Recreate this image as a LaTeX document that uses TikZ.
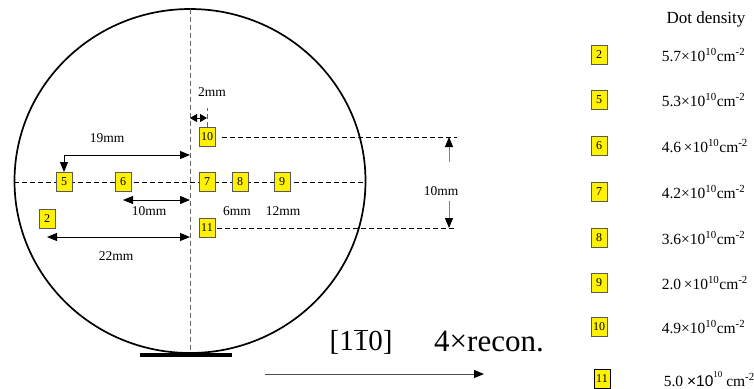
\documentclass[tikz,border=0pt]{standalone}
\usepackage{fontspec}
\setmainfont{Liberation Serif}
\newfontfamily\sansx{Liberation Sans}
\usetikzlibrary{arrows.meta}
\tikzset{
  qdbox/.style={draw=gray!70!black, fill=yellow, minimum width=16pt, minimum height=19pt,
    inner sep=0pt, line width=0.9pt, font=\fontsize{12}{12}\selectfont},
  mmlabel/.style={font=\fontsize{13.5}{13.5}\selectfont},
  dens/.style={anchor=west, font=\fontsize{15.5}{15.5}\selectfont},
  guide/.style={line width=0.9pt, dash pattern=on 5pt off 3pt},
}
\begin{document}
\begin{tikzpicture}[x=1pt, y=-1pt, line width=1pt, >={Triangle[length=10pt, width=8pt, color=black]}]
		\useasboundingbox (0,0) rectangle (754,388);
		% Пластина
		\draw[line width=1.7pt] (190,181) ellipse [x radius=175.5pt, y radius=172pt];
		\fill (140,353) rectangle (232,357);
		\draw[guide, gray!80!black] (190,9) -- (190,352);
		\draw[guide] (14,182) -- (365,182);
		
		% Точки измерения
		\foreach \n/\x/\y in {2/47/219, 5/64/182, 6/123/182, 7/207/182, 8/240/182, 9/282/182, 10/207/137, 11/207/228} {
			\node[qdbox] (b\n) at (\x,\y) {\n};
		}
		
		% Опорные точки на оси
		\coordinate (a2) at (190,118);
		\coordinate (a19) at (190,155);
		\coordinate (a10) at (190,200);
		\coordinate (a22) at (190,237);
		\coordinate (t10) at (457,137);
		\coordinate (t11) at (457,228);
		\coordinate (u10) at (449,137);
		\coordinate (u11) at (449,228);
		
		\draw[guide, shorten <=7pt] (b10.east) -- (t10);
		\draw[guide, shorten <=2pt] (b11.east) -- (t11);
		\draw[guide, gray!80!black] (b10.north) -- ++(0,-19);
		\draw[{Triangle[length=7pt, width=8pt]}-{Triangle[length=7pt, width=8pt]}] (a2) -- (b10.north |- a2);
		\draw[<->] (b5.north) |- (a19);
		\draw[<->] (b6 |- a10) -- (a10);
		\draw[<->] (b2 |- a22) -- (a22);
		
		\node[mmlabel] (l2) at (212,92) {2mm};
		\node[mmlabel] (l19) at (107,138) {19mm};
		\node[mmlabel] (l10) at (149,211) {10mm};
		\node[mmlabel] (l22) at (116,256) {22mm};
		\node[mmlabel] (l6) at (237,211) {6mm};
		\node[mmlabel] (l12) at (283,211) {12mm};
		\node[mmlabel] (d10) at (441,191) {10mm};
		\draw[->, gray, shorten <=21pt] (d10.north -| u10) -- (u10);
		\draw[->, gray, shorten <=2pt] (d10.south -| u11) -- (u11);
		
		% Направление
		\node[font=\fontsize{29}{29}\selectfont] (miller) at (361,342) {[1$\overline{\hbox{1}}$0]};
		\node[font=\fontsize{31}{31}\selectfont] (recon) at (489,342) {4×recon.};
		\coordinate (dirA) at (265,374);
		\coordinate (dirB) at (484,374);
		\draw[->, gray!60!black] (dirA) -- (dirB);
		
		% Легенда
		\node[font=\fontsize{17}{17}\selectfont] (title) at (706,19) {Dot density};
		\foreach \n/\y/\v in {2/55/5.7×10, 5/100/5.3×10, 6/146/4.6\,×10, 7/192/4.2×10, 8/238/3.6×10, 9/283/2.0\,×10, 10/327/4.9×10} {
			\node[qdbox] (k\n) at (599,\y) {\n};
			\node[dens] (v\n) at (658,\y) {\v\textsuperscript{10}cm\textsuperscript{-2}};
		}
		\node[qdbox, draw=black] (k11) at (602,379) {11};
		\node[dens] (v11) at (660,379) {5.0 {\sansx ×10}\raisebox{1.2ex}{\fontsize{9}{9}\selectfont 10} cm\textsuperscript{-2}};
	\end{tikzpicture}
\end{document}
